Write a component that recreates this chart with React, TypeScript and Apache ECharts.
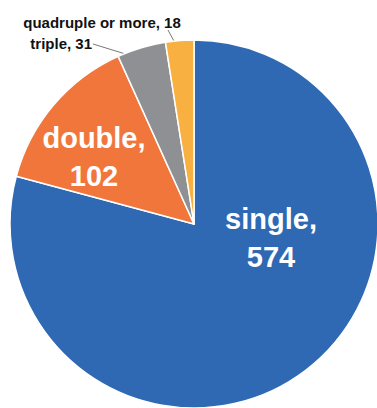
import React, { useEffect, useRef } from 'react';
import * as echarts from 'echarts';

const categories = ['single', 'double', 'triple', 'quadruple or more'];
const values = [574, 102, 31, 18];

const colors = ['#2f69b3', '#f1763b', '#8f9093', '#f8b140'];

const CENTER = [194, 224];
const RADIUS = 184;
const FONT = '"Liberation Sans", Arial, Helvetica, sans-serif';

// label placement (layout only)
const labelPos: { x: number; y: number; align: string; line?: number[] }[] = [
  { x: 271, y: 238, align: 'center' },
  { x: 94, y: 157, align: 'center' },
  { x: 92, y: 43, align: 'right', line: [93, 44] },
  { x: 102, y: 22, align: 'center', line: [168, 30] },
];

const total = values.reduce((a, b) => a + b, 0);
function anchorPoint(i: number) {
  const before = values.slice(0, i).reduce((a, b) => a + b, 0);
  const ang = ((90 - ((before + values[i] / 2) / total) * 360) * Math.PI) / 180;
  const r = RADIUS * 0.93;
  return [CENTER[0] + r * Math.cos(ang), CENTER[1] - r * Math.sin(ang)];
}

export default function App() {
  const ref = useRef<HTMLDivElement>(null);
  useEffect(() => {
    if (!ref.current) return;
    const chart = echarts.init(ref.current, undefined, { renderer: 'svg' });
    const insideLabel = {
      show: true,
      position: 'inside',
      formatter: '{b},\n{c}',
      color: '#ffffff',
      fontWeight: 'bold',
      fontSize: 29,
      lineHeight: 38,
      fontFamily: FONT,
    };
    const outsideLabel = {
      show: true,
      position: 'outside',
      formatter: '{b}, {c}',
      color: '#111111',
      fontWeight: 'bold',
      fontSize: 15,
      fontFamily: FONT,
    };
    chart.setOption({
      animation: false,
      backgroundColor: '#ffffff',
      series: [
        {
          type: 'pie',
          center: CENTER,
          radius: RADIUS,
          startAngle: 90,
          clockwise: true,
          avoidLabelOverlap: false,
          itemStyle: { borderColor: '#ffffff', borderWidth: 1.5 },
          data: categories.map((name, i) => ({
            name,
            value: values[i],
            itemStyle: { color: colors[i] },
            label: i < 2 ? insideLabel : outsideLabel,
            labelLine: {
              show: i >= 2,
              lineStyle: { color: '#555555', width: 0.8 },
            },
          })),
          emphasis: { disabled: true },
          labelLayout: (params: any) => {
            const i = params.dataIndex;
            const p = labelPos[i];
            const out: any = { x: p.x, y: p.y, align: p.align, verticalAlign: 'middle' };
            if (p.line) out.labelLinePoints = [anchorPoint(i), p.line];
            return out;
          },
        },
      ],
    });
    return () => chart.dispose();
  }, []);
  return (
    <div
      ref={ref}
      style={{ position: 'fixed', left: 0, top: 0, width: 377, height: 408, background: '#fff' }}
    />
  );
}
